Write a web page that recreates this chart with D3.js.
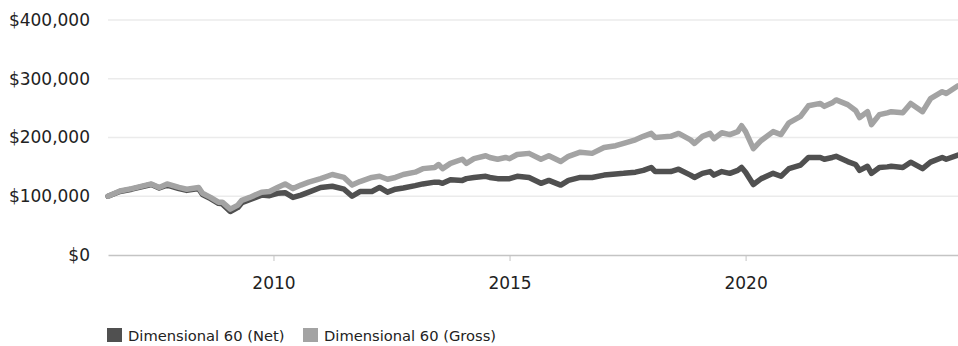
<!DOCTYPE html>
<html>
<head>
<meta charset="utf-8">
<script src="https://cdn.jsdelivr.net/npm/d3@7"></script>
<style>
  html, body { margin: 0; padding: 0; background: #fff; }
  svg { display: block; font-family: "DejaVu Sans", Verdana, sans-serif; }
</style>
</head>
<body>
<svg id="chart" width="958" height="346"></svg>
<script>
const dates = ["2006-07","2006-10","2007-01","2007-06","2007-08","2007-10","2008-01","2008-03","2008-06","2008-07","2008-09","2008-11","2008-12","2009-02","2009-04","2009-05","2009-07","2009-10","2009-12","2010-02","2010-04","2010-06","2010-08","2010-10","2011-01","2011-04","2011-07","2011-09","2011-11","2012-02","2012-04","2012-06","2012-08","2012-10","2013-01","2013-03","2013-06","2013-07","2013-08","2013-10","2014-01","2014-02","2014-04","2014-07","2014-08","2014-10","2014-12","2015-01","2015-03","2015-06","2015-09","2015-11","2016-02","2016-04","2016-07","2016-10","2017-01","2017-04","2017-06","2017-09","2017-11","2018-01","2018-02","2018-06","2018-08","2018-11","2018-12","2019-02","2019-04","2019-05","2019-07","2019-09","2019-11","2019-12","2020-01","2020-03","2020-05","2020-08","2020-10","2020-12","2021-03","2021-05","2021-08","2021-09","2021-11","2021-12","2022-03","2022-05","2022-06","2022-08","2022-09","2022-11","2023-01","2023-02","2023-05","2023-07","2023-10","2023-12","2024-03","2024-04","2024-07"];
const grossValues = [100,109,113,121,115,121,115,112,115,105,98,90,90,78,85,93,98,107,108,115,121,113,119,124,130,137,132,119,125,132,134,129,132,137,141,147,149,154,147,156,163,156,164,169,166,163,166,164,171,173,163,169,159,168,175,173,183,186,190,196,202,207,200,202,207,196,190,202,207,198,208,205,210,220,210,181,195,210,205,225,236,254,258,253,259,264,256,246,234,244,222,239,242,244,242,258,244,266,278,275,288];
const netValues = [100,108,112,120,114,119,113,110,113,103,96,88,87,74,81,89,94,102,101,105,106,98,102,107,115,117,112,100,108,108,115,107,112,114,118,121,124,124,122,128,127,130,132,134,132,130,130,130,134,132,122,127,119,127,132,132,136,138,139,141,144,149,142,142,146,136,132,139,142,136,142,139,144,149,141,120,130,139,134,147,153,166,166,163,166,168,159,154,144,151,139,149,150,151,149,158,147,158,166,163,170];
const yTicks = [0, 100000, 200000, 300000, 400000];
const xTickYears = [2010, 2015, 2020];
const seriesNames = ["Dimensional 60 (Net)", "Dimensional 60 (Gross)"];
const seriesColors = ["#505050", "#a3a3a3"];

const parse = d3.timeParse("%Y-%m");
const svg = d3.select("#chart");
const plotLeft = 108, plotRight = 958, plotTop = 20, plotBottom = 255;

const x = d3.scaleTime()
  .domain([parse(dates[0]), parse(dates[dates.length - 1])])
  .range([plotLeft, plotRight]);
const y = d3.scaleLinear().domain([0, 400000]).range([plotBottom, plotTop]);

// gridlines
svg.append("g").selectAll("line")
  .data(yTicks.filter(d => d > 0))
  .join("line")
  .attr("x1", plotLeft).attr("x2", plotRight)
  .attr("y1", d => y(d)).attr("y2", d => y(d))
  .attr("stroke", "#ebebeb").attr("stroke-width", 1.5);

// y labels
const fmt = d3.format(",");
svg.append("g").selectAll("text")
  .data(yTicks)
  .join("text")
  .attr("x", 90).attr("y", d => y(d))
  .attr("dy", "0.35em")
  .attr("text-anchor", "end")
  .attr("font-size", 17)
  .attr("fill", "#222")
  .text(d => "$" + fmt(d));

// x axis
const xAxis = d3.axisBottom(x)
  .tickValues(xTickYears.map(yr => new Date(yr, 0, 1)))
  .tickFormat(d3.timeFormat("%Y"))
  .tickSize(6)
  .tickSizeOuter(0)
  .tickPadding(16);
const gx = svg.append("g").attr("transform", `translate(0,${plotBottom})`).call(xAxis);
gx.select(".domain").attr("stroke", "#c4c4c4").attr("stroke-width", 1.5);
gx.selectAll(".tick line").attr("stroke", "#c4c4c4");
gx.selectAll(".tick text").attr("font-size", 17).attr("fill", "#222")
  .attr("font-family", "DejaVu Sans, Verdana, sans-serif");

// lines
const line = d3.line()
  .x((d, i) => x(parse(dates[i])))
  .y(d => y(d * 1000));

[netValues, grossValues].forEach((vals, i) => {
  svg.append("path")
    .datum(vals)
    .attr("d", line)
    .attr("fill", "none")
    .attr("stroke", seriesColors[i])
    .attr("stroke-width", 5.5)
    .attr("stroke-linejoin", "round")
    .attr("stroke-linecap", "round");
});

// legend
const legendX = [107, 303];
seriesNames.forEach((name, i) => {
  svg.append("rect")
    .attr("x", legendX[i]).attr("y", 328)
    .attr("width", 15).attr("height", 14)
    .attr("fill", seriesColors[i]);
  svg.append("text")
    .attr("x", legendX[i] + 21).attr("y", 341)
    .attr("font-size", 14.7)
    .attr("fill", "#222")
    .text(name);
});
</script>
</body>
</html>
